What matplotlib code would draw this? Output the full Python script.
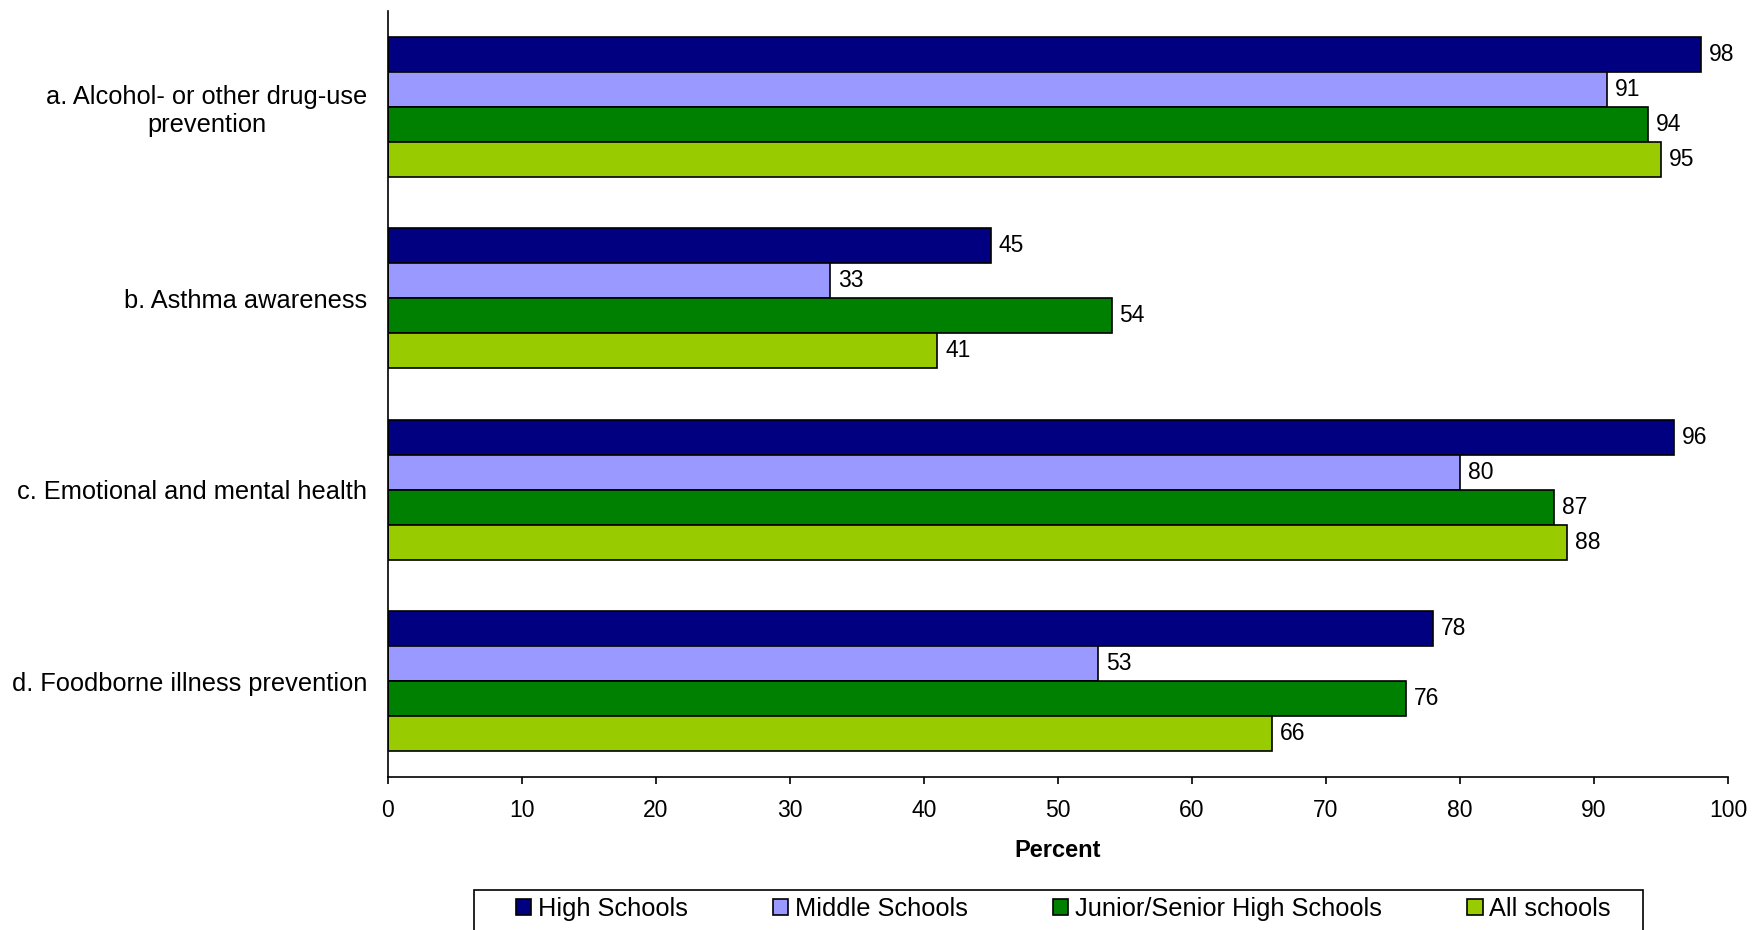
import matplotlib
matplotlib.use('Agg')
import matplotlib.pyplot as plt
from matplotlib.patches import Rectangle
import numpy as np

plt.rcParams['font.family'] = ['Liberation Sans', 'DejaVu Sans']

categories = [
    'a. Alcohol- or other drug-use\nprevention',
    'b. Asthma awareness',
    'c. Emotional and mental health',
    'd. Foodborne illness prevention',
]
series_names = ['High Schools', 'Middle Schools', 'Junior/Senior High Schools', 'All schools']
high_schools = [98, 45, 96, 78]
middle_schools = [91, 33, 80, 53]
junior_senior = [94, 54, 87, 76]
all_schools = [95, 41, 88, 66]
colors = ['#000080', '#9999FF', '#008000', '#99CC00']
x_ticks = list(range(0, 101, 10))

fig = plt.figure(figsize=(17.53, 9.30), dpi=100)
ax = fig.add_axes([0.2213, 0.1645, 0.7644, 0.8235])

ypos = np.arange(len(categories))
h = 0.183
for i, (vals, name, c) in enumerate(zip([high_schools, middle_schools, junior_senior, all_schools],
                                        series_names, colors)):
    y = ypos + (i - 1.5) * h
    ax.barh(y, vals, height=h, color=c, edgecolor='black', linewidth=1.2, label=name)
    for yy, v in zip(y, vals):
        ax.text(v + 0.6, yy, str(v), va='center', ha='left', fontsize=16.5)

ax.set_ylim(3.5, -0.5)
ax.set_xlim(0, 100)
ax.set_yticks(ypos)
ax.set_yticklabels(categories, fontsize=18.3)
for lbl in ax.get_yticklabels():
    lbl.set_multialignment('center')
ax.tick_params(axis='y', length=0, pad=15)
ax.set_xticks(x_ticks)
ax.tick_params(axis='x', labelsize=16.5, length=5, width=1.2, pad=11)
ax.spines['top'].set_visible(False)
ax.spines['right'].set_visible(False)
ax.spines['left'].set_linewidth(1.2)
ax.spines['bottom'].set_linewidth(1.2)
ax.set_xlabel('Percent', fontsize=17, fontweight='bold', labelpad=12)

# legend box drawn separately; in the original its lower edge is cut off by the image border
fig.patches.append(Rectangle((0.2704, -0.02), 0.6667, 0.063, transform=fig.transFigure,
                             fill=False, edgecolor='black', linewidth=1.2, clip_on=False))
leg = fig.legend(loc='center', bbox_to_anchor=(0.6065, 0.0226),
                 ncol=4, fontsize=18.3, frameon=False,
                 handlelength=0.6, handleheight=0.6, handletextpad=0.25, borderaxespad=0,
                 borderpad=0.0, columnspacing=3.37)

fig.savefig('out.png', dpi=100)
